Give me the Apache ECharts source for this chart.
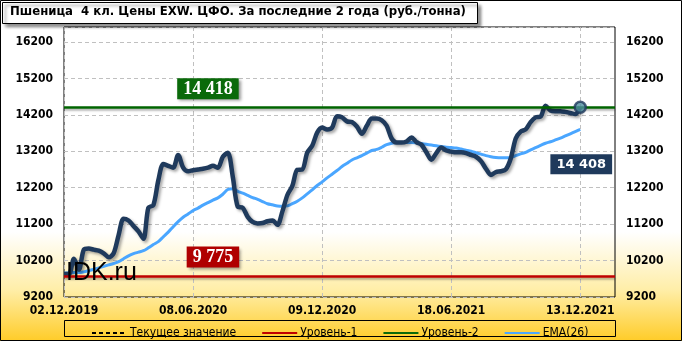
<!DOCTYPE html>
<html>
<head>
<meta charset="utf-8">
<script src="https://cdn.jsdelivr.net/npm/echarts@6/dist/echarts.min.js"></script>
<style>html,body{margin:0;padding:0;background:#fff}#c{width:682px;height:341px}</style>
</head>
<body>
<div id="c"></div>
<script>
const titleText = 'Пшеница  4 кл. Цены EXW. ЦФО. За последние 2 года (руб./тонна)';
const tickLabels = ['02.12.2019', '08.06.2020', '09.12.2020', '18.06.2021', '13.12.2021'];
const tickStep = 26;
const slotCount = 112;
const priceValues = [
  9830, 9830, 10250, 9950, 10500, 10530, 10500, 10470, 10400, 10290,
  10400, 10900, 11350, 11300, 11150, 11000, 10800, 11650, 11720, 12400,
  12850, 12800, 12750, 13100, 12750, 12650, 12680, 12700, 12720, 12750,
  12800, 12750, 13050, 13160, 12500, 11680, 11650, 11400, 11260, 11220,
  11230, 11280, 11300, 11180, 11550, 12000, 12250, 12690, 12700, 13160,
  13350, 13710, 13850, 13800, 13850, 14160, 14130, 14020, 14000, 13880,
  13680, 13900, 14100, 14100, 14050, 13900, 13550, 13440, 13440, 13470,
  13580, 13450, 13380, 13170, 12970, 13150, 13300, 13220, 13190, 13170,
  13170, 13150, 13100, 13050, 12930, 12720, 12550, 12630, 12650, 12700,
  13000, 13550, 13740, 13800, 14000, 14130, 14150, 14450, 14320, 14300,
  14300, 14280, 14250, 14220, 14408
];
const emaValues = [
  9850, 9860, 9870, 9870, 9890, 9920, 9960, 10000, 10040, 10080,
  10120, 10170, 10250, 10330, 10390, 10430, 10470, 10550, 10640, 10720,
  10850, 10980, 11130, 11270, 11390, 11480, 11570, 11640, 11720, 11790,
  11860, 11920, 12020, 12150, 12170, 12100, 12050, 11990, 11930, 11880,
  11820, 11760, 11730, 11700, 11690, 11700, 11760, 11830, 11920, 12030,
  12140, 12260, 12360, 12470, 12570, 12670, 12780, 12870, 12960, 13020,
  13080, 13150, 13220, 13250, 13310, 13380, 13420, 13440, 13440, 13440,
  13440, 13430, 13410, 13390, 13370, 13350, 13330, 13310, 13300, 13290,
  13260, 13230, 13200, 13160, 13120, 13080, 13050, 13030, 13020, 13020,
  13030, 13080, 13130, 13170, 13240, 13300, 13360, 13420, 13460, 13510,
  13560, 13620, 13680, 13740, 13800
];
const level1 = 9775;
const level2 = 14418;
const currentValue = 14408;
const yMin = 9200, yMax = 16610, yStep = 1000;

const categories = Array.from({length: slotCount}, (_, i) => String(i));
const isTick = (i) => i % tickStep === 0 && i / tickStep < tickLabels.length;
const fmtNum = (v) => String(v).replace(/\B(?=(\d{3})+(?!\d))/g, ' ');
const lastIdx = priceValues.length - 1;

const condFont = '"DejaVu Sans Condensed", "DejaVu Sans", sans-serif';
const chart = echarts.init(document.getElementById('c'), null, {renderer: 'canvas'});

const yAxisBase = {
  type: 'value', min: yMin, max: yMax, interval: yStep,
  axisLine: {show: false}, axisTick: {show: false},
  axisLabel: {showMaxLabel: false, formatter: (v) => String(v), color: '#000', fontWeight: 'bold', fontSize: 12, fontFamily: condFont, margin: 11}
};

chart.setOption({
  animation: false,
  backgroundColor: new echarts.graphic.LinearGradient(0, 0, 0, 1, [
    {offset: 0, color: '#ffffff'}, {offset: 0.68, color: '#ffffff'},
    {offset: 0.85, color: '#ffeea8'}, {offset: 1, color: '#ffcc28'}
  ]),
  grid: {left: 64, right: 67, top: 27, bottom: 44, show: true, borderColor: '#000', borderWidth: 1, backgroundColor: 'transparent'},
  xAxis: {
    type: 'category', boundaryGap: false, data: categories,
    axisLine: {show: false}, axisTick: {show: false},
    axisLabel: {interval: (i) => isTick(i), formatter: (v, i) => tickLabels[i / tickStep],
      color: '#000', fontWeight: 'bold', fontSize: 12, fontFamily: condFont, margin: 8},
    splitLine: {show: true, interval: (i) => isTick(i), lineStyle: {color: '#c0c0c0', type: [4, 3], width: 1}}
  },
  yAxis: [
    Object.assign({}, yAxisBase, {position: 'left', splitLine: {show: true, lineStyle: {color: '#c0c0c0', type: [4, 3], width: 1}}}),
    Object.assign({}, yAxisBase, {position: 'right', splitLine: {show: false}})
  ],
  legend: {
    left: 86, top: 322, itemWidth: 35, itemHeight: 12, itemGap: 25,
    itemStyle: {opacity: 0},
    textStyle: {color: '#000', fontSize: 12, fontFamily: condFont, padding: [0, 0, 0, -2]},
    data: ['Текущее значение', 'Уровень-1', 'Уровень-2', 'EMA(26)']
  },
  series: [
    {
      name: 'Текущее значение', type: 'line', data: [], symbol: 'none',
      lineStyle: {color: '#000', width: 1, type: [4, 3]}, itemStyle: {color: '#000'},
      markLine: {silent: true, symbol: 'none', label: {show: false},
        lineStyle: {color: '#000', width: 1, type: [3, 3]}, data: [{yAxis: currentValue}]}
    },
    {
      name: 'Уровень-1', type: 'line', data: [], symbol: 'none',
      lineStyle: {color: '#c00000', width: 3}, itemStyle: {color: '#c00000'},
      markLine: {silent: true, symbol: 'none', label: {show: false},
        lineStyle: {color: '#c00000', width: 2.5, type: 'solid', shadowColor: 'rgba(0,0,0,0.3)', shadowBlur: 2, shadowOffsetY: 2},
        data: [{yAxis: level1}]},
      markPoint: {silent: true, symbol: 'rect', symbolSize: 1, itemStyle: {color: 'transparent'},
        data: [{coord: [30, level1], value: level1}],
        label: {show: true, formatter: (p) => fmtNum(p.value), offset: [0, -19], color: '#fff', fontWeight: 'bold', fontSize: 18,
          fontFamily: '"Liberation Serif", serif', backgroundColor: '#b00000', padding: [2, 6, 1, 6],
          shadowColor: 'rgba(0,0,0,0.4)', shadowBlur: 3, shadowOffsetX: 2, shadowOffsetY: 2}}
    },
    {
      name: 'Уровень-2', type: 'line', data: [], symbol: 'none',
      lineStyle: {color: '#0a6a0a', width: 3}, itemStyle: {color: '#0a6a0a'},
      markLine: {silent: true, symbol: 'none', label: {show: false},
        lineStyle: {color: '#006400', width: 2.5, type: 'solid', shadowColor: 'rgba(0,0,0,0.3)', shadowBlur: 2, shadowOffsetY: 2},
        data: [{yAxis: level2}]},
      markPoint: {silent: true, symbol: 'rect', symbolSize: 1, itemStyle: {color: 'transparent'},
        data: [{coord: [29, level2], value: level2}],
        label: {show: true, formatter: (p) => fmtNum(p.value), offset: [0, -18], color: '#fff', fontWeight: 'bold', fontSize: 18,
          fontFamily: '"Liberation Serif", serif', backgroundColor: '#0a6a0a', padding: [2, 6, 1, 6],
          shadowColor: 'rgba(0,0,0,0.4)', shadowBlur: 3, shadowOffsetX: 2, shadowOffsetY: 2}}
    },
    {
      name: 'EMA(26)', type: 'line', data: emaValues, symbol: 'none', smooth: 0.3,
      lineStyle: {color: '#4aa6ff', width: 3}, itemStyle: {color: '#4aa6ff'}, z: 3
    },
    {
      name: 'Цена', type: 'line', data: priceValues, symbol: 'none', smooth: 0.3,
      lineStyle: {color: '#1f3a5c', width: 4.5, shadowColor: 'rgba(0,0,0,0.35)', shadowBlur: 3, shadowOffsetX: 2, shadowOffsetY: 2},
      itemStyle: {color: '#1f3a5c'}, z: 4,
      markPoint: {silent: true, symbol: 'rect', symbolSize: 1, itemStyle: {color: 'transparent'},
        data: [{coord: [lastIdx, currentValue], value: currentValue}],
        label: {show: true, formatter: (p) => fmtNum(p.value), offset: [1, 57], color: '#fff', fontWeight: 'bold', fontSize: 13,
          fontFamily: '"DejaVu Sans", sans-serif', backgroundColor: '#1f3a5c', padding: [4, 6, 3, 6]}}
    },
    {
      name: 'Последнее', type: 'scatter', data: [[lastIdx, priceValues[lastIdx]]], symbol: 'circle', symbolSize: 11,
      itemStyle: {color: '#4f8ea0', borderColor: '#1f3a5c', borderWidth: 2.5}, z: 5, silent: true
    }
  ],
  graphic: [
    {type: 'rect', z: 100, shape: {x: 64.5, y: 320.5, width: 551, height: 16}, style: {fill: 'transparent', stroke: '#000', lineWidth: 1}},
    {type: 'text', z: 100, left: 66, top: 261, style: {text: 'IDK.ru', fill: '#000', font: '25px "Liberation Sans", Arial, sans-serif'}},
    {type: 'rect', z: 100, shape: {x: 2.5, y: 2.5, width: 475, height: 21},
      style: {fill: '#fff', stroke: '#000', lineWidth: 1, shadowColor: 'rgba(0,0,0,0.45)', shadowBlur: 3, shadowOffsetX: 3, shadowOffsetY: 3}},
    {type: 'text', z: 101, left: 10, top: 5, style: {text: titleText, fill: '#000', font: 'bold 13px ' + condFont}},
    {type: 'rect', z: 100, shape: {x: 0.5, y: 0.5, width: 681, height: 340}, style: {fill: 'transparent', stroke: '#000', lineWidth: 1}}
  ]
});
</script>
</body>
</html>
